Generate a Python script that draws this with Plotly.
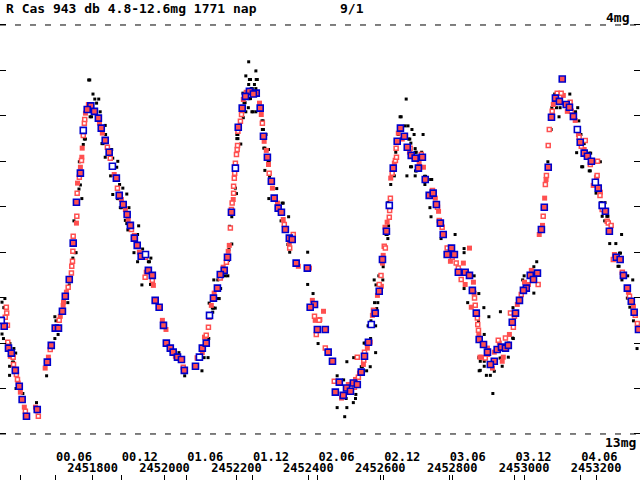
import plotly.graph_objects as go

# visual estimates (black dots)
black_jd = [2451789, 2451792, 2451801, 2451806, 2451817, 2451811, 2451793, 2451797, 2451821, 2451835,
            2451777, 2451780, 2451836, 2451826, 2451829, 2451774, 2451853, 2451856, 2451835, 2451870,
            2451763, 2451867, 2451850, 2451766, 2451875, 2451884, 2451762, 2451856, 2451895, 2451869,
            2451872, 2451770, 2451877, 2451880, 2451901, 2451891, 2451895, 2451898, 2451928, 2451748,
            2451898, 2451925, 2451751, 2451754, 2451745, 2451939, 2451915, 2451962, 2451925, 2451955,
            2451958, 2451937, 2451961, 2451964, 2451735, 2451731, 2451556, 2451548, 2451553, 2451556,
            2451563, 2451695, 2451698, 2451704, 2451695, 2451548, 2451552, 2451567, 2451570, 2451581,
            2451586, 2451577, 2451580, 2451569, 2451582, 2451569, 2451672, 2451587, 2451606, 2451644,
            2451643,
            2452234, 2452254, 2452226, 2452236, 2452239, 2452255, 2452258, 2452234, 2452250, 2452241,
            2452244, 2452254, 2452218, 2452236, 2452239, 2452221, 2452224, 2452264, 2452233, 2452226,
            2452243, 2452246, 2452254, 2452219, 2452271, 2452274, 2452272, 2452275, 2452201, 2452204,
            2452282, 2452201, 2452204, 2452212, 2452276, 2452279, 2452289, 2452288, 2452291, 2452292,
            2452279, 2452197, 2452200, 2452312, 2452290, 2452327, 2452330, 2452345, 2452324, 2452187,
            2452181, 2452343, 2452348, 2452398, 2452187, 2452179, 2452398, 2452413, 2452178, 2452169,
            2452176, 2452137, 2452148, 2452156, 2452149, 2452152, 2452124, 2452133, 2452136, 2452141,
            2452134, 2452123, 2452110, 2452121, 2452104, 2452056, 2452040, 2452427,
            2452672, 2452655, 2452658, 2452669, 2452677, 2452688, 2452650, 2452679, 2452682, 2452694,
            2452719, 2452685, 2452697, 2452643, 2452697, 2452700, 2452715, 2452684, 2452687, 2452698,
            2452701, 2452639, 2452674, 2452697, 2452723, 2452726, 2452740, 2452743, 2452629, 2452724,
            2452621, 2452738, 2452741, 2452623, 2452616, 2452619, 2452808, 2452621, 2452769, 2452833,
            2452833, 2452608, 2452596, 2452607, 2452583, 2452588, 2452861, 2452833, 2452874, 2452593,
            2452584, 2452843, 2452590, 2452574, 2452566, 2452569, 2452587, 2452873, 2452573, 2452555,
            2452558, 2452587, 2452526, 2452507, 2452547, 2452550, 2452572, 2452562, 2452480, 2452498,
            2452532, 2452531, 2452505, 2452525, 2452480, 2452507, 2452501, 2452874, 2452875,
            2453085, 2453127, 2453077, 2453090, 2453100, 2453143, 2453097, 2453149, 2453152, 2453075,
            2453145, 2453158, 2453167, 2453146, 2453182, 2453185, 2453212, 2453066, 2453160, 2453163,
            2453181, 2453184, 2453200, 2453213, 2453216, 2453225, 2453217, 2453230, 2453233, 2453224,
            2453271, 2453238, 2453255, 2453265, 2453268, 2453261, 2453264, 2453288, 2453272, 2453302,
            2453035, 2453027, 2453000, 2452996, 2453027, 2452969, 2452934, 2452888, 2452902, 2452970,
            2452956, 2453294, 2453314, 2453304, 2453287, 2452889, 2452889, 2452878, 2452956, 2452933,
            2452936, 2452939, 2452889, 2452878, 2452917, 2452895, 2452906, 2452913, 2452968]
black_mag = [5.21, 5.21, 5.52, 5.63, 5.63, 5.72, 6.02, 6.02, 5.91, 6.21,
             6.51, 6.51, 6.41, 6.61, 6.61, 6.63, 6.74, 6.93, 6.91, 7.00,
             7.01, 7.13, 7.32, 7.52, 7.51, 7.59, 7.61, 7.73, 7.72, 7.82,
             7.82, 7.82, 8.02, 8.02, 8.02, 8.30, 8.37, 8.37, 8.42, 8.31,
             8.51, 8.61, 9.01, 9.01, 9.13, 8.93, 9.01, 9.13, 9.21, 9.21,
             9.21, 9.72, 9.71, 9.71, 9.72, 10.11, 10.02, 10.10, 10.22, 10.22,
             10.23, 10.42, 10.51, 10.81, 10.90, 10.80, 10.90, 11.01, 11.01, 11.12,
             11.22, 11.42, 11.42, 11.51, 11.51, 11.71, 11.72, 12.00, 12.11, 12.31,
             12.51,
             4.81, 5.01, 5.12, 5.20, 5.20, 5.20, 5.20, 5.31, 5.31, 5.40,
             5.40, 5.40, 5.50, 5.62, 5.62, 5.71, 5.71, 5.71, 5.82, 5.91,
             5.91, 5.91, 5.91, 6.04, 6.11, 6.11, 6.30, 6.30, 6.41, 6.41,
             6.41, 6.50, 6.50, 6.62, 6.71, 6.71, 6.74, 7.02, 7.02, 7.33,
             7.20, 7.59, 7.71, 7.60, 7.82, 7.92, 7.92, 8.22, 8.31, 8.22,
             8.43, 8.83, 9.00, 9.00, 8.82, 8.94, 9.71, 9.91, 9.18, 9.52,
             9.52, 9.61, 9.61, 9.80, 10.02, 10.02, 10.12, 10.23, 10.23, 10.23,
             10.32, 10.90, 11.32, 11.32, 11.61, 11.72, 11.21, 11.01,
             5.63, 6.02, 6.02, 6.22, 6.22, 6.30, 6.41, 6.51, 6.51, 6.41,
             6.41, 6.60, 6.72, 6.80, 6.80, 6.80, 6.80, 7.12, 7.12, 7.21,
             7.21, 7.32, 7.32, 7.32, 7.33, 7.33, 7.40, 7.40, 7.51, 7.51,
             7.91, 8.02, 8.22, 8.42, 8.61, 8.61, 8.61, 8.70, 8.70, 8.92,
             9.01, 9.32, 9.52, 9.61, 9.61, 9.72, 9.52, 9.80, 9.91, 10.11,
             10.11, 10.11, 10.24, 10.51, 10.62, 10.62, 10.62, 10.51, 10.90, 11.00,
             11.00, 11.21, 11.32, 11.41, 11.52, 11.52, 11.52, 11.61, 11.72, 11.81,
             12.13, 12.22, 12.22, 12.31, 12.42, 12.42, 12.62, 11.32, 11.61,
             5.52, 5.52, 5.82, 5.82, 5.82, 5.91, 6.02, 5.82, 6.11, 6.30,
             6.28, 6.41, 6.61, 6.81, 6.82, 6.82, 7.01, 7.01, 7.12, 7.12,
             7.21, 7.21, 7.70, 7.91, 7.91, 7.91, 8.21, 8.21, 8.21, 8.31,
             8.61, 8.81, 8.81, 9.02, 9.02, 9.31, 9.31, 9.52, 9.61, 9.61,
             9.21, 9.32, 9.52, 9.61, 9.90, 10.22, 10.31, 10.22, 10.42, 10.90,
             11.00, 10.21, 11.12, 10.51, 10.01, 10.81, 11.40, 11.40, 11.31, 11.33,
             11.33, 11.51, 11.51, 11.60, 11.62, 11.71, 11.71, 12.11, 10.89]

# filled red squares
red_jd = [2451668, 2451677, 2451710, 2451718, 2451719, 2451727, 2451755, 2451758, 2451766, 2451770,
          2451771, 2451780, 2451788, 2451819, 2451827, 2451860, 2451880, 2451891, 2451899, 2451916,
          2451930, 2451949, 2451969, 2451976, 2451571, 2451593, 2451599, 2451610, 2451641,
          2452105, 2452111, 2452130, 2452138, 2452163, 2452177, 2452180, 2452191, 2452219, 2452227,
          2452264, 2452269, 2452277, 2452283, 2452289, 2452300, 2452314, 2452330, 2452347, 2452372,
          2452403, 2452411, 2452419, 2451994, 2452004, 2452030,
          2452492, 2452511, 2452531, 2452542, 2452553, 2452564, 2452572, 2452578, 2452592, 2452603,
          2452606, 2452608, 2452613, 2452619, 2452629, 2452639, 2452650, 2452661, 2452681, 2452708,
          2452720, 2452753, 2452762, 2452795, 2452831, 2452848, 2452836, 2452859, 2452861, 2452853,
          2452874, 2452442, 2452432,
          2452959, 2452931, 2452898, 2452881, 2452942, 2452939, 2452912, 2452899, 2452877, 2452917,
          2452981, 2453001, 2453012, 2453020, 2453042, 2453051, 2453057, 2453061, 2453081, 2453109,
          2453120, 2453142, 2453151, 2453167, 2453201, 2453192, 2453212, 2453251, 2453290, 2453304]
red_mag = [11.55, 11.31, 10.41, 10.17, 10.10, 9.88, 8.36, 7.48, 7.13, 6.91,
           6.71, 5.94, 5.75, 6.16, 6.38, 7.29, 7.84, 8.06, 8.28, 8.63,
           9.00, 9.44, 9.73, 10.04, 11.29, 11.88, 12.08, 12.41, 12.41,
           11.21, 10.87, 10.17, 9.90, 9.33, 8.98, 8.85, 7.84, 5.64, 5.48,
           5.72, 5.97, 6.56, 6.76, 7.07, 7.59, 7.92, 8.28, 8.80, 9.31,
           9.35, 10.06, 10.50, 10.50, 10.70, 11.29,
           12.21, 11.91, 11.80, 11.66, 11.47, 11.11, 10.98, 10.39, 9.95, 9.75,
           9.24, 9.07, 8.45, 8.34, 7.37, 7.04, 6.38, 6.51, 6.80, 7.04,
           7.13, 7.81, 8.10, 9.20, 9.24, 8.91, 9.71, 9.66, 9.90, 10.21,
           10.83, 10.30, 10.48,
           10.81, 11.00, 11.11, 11.31, 11.31, 11.40, 11.55, 11.25, 11.31, 11.20,
           10.15, 9.66, 9.71, 9.40, 8.61, 8.41, 7.81, 7.40, 5.75, 5.55,
           5.90, 6.10, 6.41, 6.74, 7.35, 7.53, 7.68, 9.05, 9.88, 10.19]

# open red squares
red_open_jd = [2451682, 2451707, 2451732, 2451741, 2451742, 2451744, 2451745, 2451746, 2451756, 2451757,
               2451763, 2451769, 2451774, 2451777, 2451778, 2451841, 2451849, 2451869, 2451908, 2451947,
               2451946, 2451966, 2451560, 2451561, 2451557, 2451563, 2451564, 2451579, 2451580, 2451588,
               2451591, 2451613, 2451649,
               2452091, 2452116, 2452122, 2452124, 2452155, 2452172, 2452183, 2452186, 2452188, 2452192,
               2452192, 2452194, 2452195, 2452197, 2452200, 2452202, 2452203, 2452204, 2452211, 2452214,
               2452272, 2452291, 2452333, 2452358, 2452348, 2452417, 2452430, 2452422, 2452052,
               2452472, 2452528, 2452539, 2452554, 2452556, 2452536, 2452581, 2452597, 2452602, 2452611,
               2452614, 2452625, 2452626, 2452628, 2452633, 2452642, 2452645, 2452644, 2452683, 2452714,
               2452745, 2452759, 2452764, 2452772, 2452786, 2452800, 2452811, 2452817, 2452825, 2452862,
               2452864, 2452870, 2452871, 2452873, 2452447,
               2452970, 2452928, 2452948, 2452892, 2452962, 2452973, 2452992, 2453039, 2453053, 2453059,
               2453062, 2453067, 2453070, 2453078, 2453092, 2453103, 2453128, 2453131, 2453153, 2453170,
               2453159, 2453184, 2453204, 2453203, 2453211, 2453217, 2453231, 2453234, 2453242, 2453248,
               2453273, 2453293, 2453309, 2453315]
red_open_mag = [11.14, 10.50, 9.77, 9.46, 9.31, 9.20, 8.98, 8.65, 8.21, 7.70,
                7.35, 6.98, 6.43, 6.16, 6.08, 6.69, 6.93, 7.59, 8.50, 9.11,
                9.55, 9.62, 10.21, 10.34, 10.43, 10.61, 10.98, 11.31, 11.47, 11.69,
                11.80, 12.50, 12.61,
                11.33, 10.83, 10.65, 10.43, 9.57, 9.22, 8.47, 8.06, 7.92, 7.70,
                7.55, 7.37, 7.26, 7.04, 6.85, 6.74, 6.65, 6.34, 6.12, 5.97,
                6.16, 7.26, 8.39, 8.61, 8.91, 10.41, 10.50, 10.81, 11.53,
                11.84, 11.97, 11.75, 11.38, 11.20, 11.31, 10.28, 9.71, 9.51, 8.87,
                8.91, 8.23, 8.08, 7.81, 7.26, 6.98, 6.91, 6.71, 6.71, 6.85,
                7.64, 8.01, 8.30, 8.45, 8.91, 9.11, 9.24, 9.35, 9.60, 10.01,
                10.17, 10.45, 10.59, 10.72, 11.11,
                10.65, 10.94, 10.89, 11.33, 10.34, 10.41, 9.93, 9.71, 8.21, 7.51,
                7.31, 6.65, 6.30, 5.90, 5.50, 5.50, 5.70, 5.90, 6.47, 6.54,
                6.67, 7.07, 7.00, 7.31, 7.75, 8.06, 8.32, 8.36, 8.41, 9.16,
                9.44, 9.97, 10.39, 10.57]

# blue-edged squares
blue_jd = [2451795, 2451785, 2451805, 2451816, 2451824, 2451835, 2451846, 2451766, 2451866, 2451874,
           2451755, 2451885, 2451896, 2451905, 2451916, 2451746, 2451924, 2451935, 2451955, 2451966,
           2451735, 2451724, 2451974, 2451985, 2451716, 2451696, 2451705, 2451685, 2451674, 2451554,
           2451566, 2451574, 2451585, 2451596, 2451604, 2451616, 2451646,
           2452236, 2452255, 2452247, 2452225, 2452216, 2452266, 2452205, 2452275, 2452286, 2452297,
           2452305, 2452316, 2452325, 2452186, 2452336, 2452347, 2452355, 2452175, 2452166, 2452155,
           2452366, 2452397, 2452147, 2452136, 2452417, 2452405, 2452425, 2451997, 2452005, 2452016,
           2452024, 2452036, 2452047, 2452055, 2452086, 2452105, 2452116,
           2452656, 2452667, 2452647, 2452675, 2452686, 2452697, 2452717, 2452636, 2452706, 2452725,
           2452736, 2452747, 2452756, 2452767, 2452617, 2452775, 2452798, 2452786, 2452806, 2452606,
           2452817, 2452836, 2452848, 2452856, 2452597, 2452586, 2452867, 2452447, 2452875, 2452567,
           2452455, 2452556, 2452467, 2452547, 2452486, 2452506, 2452525, 2452536, 2452517, 2452475,
           2452497,
           2453106, 2453087, 2453098, 2453117, 2453126, 2453076, 2453137, 2453156, 2453167, 2453176,
           2453187, 2453067, 2453206, 2453226, 2453056, 2453048, 2453237, 2453256, 2453267, 2453276,
           2453037, 2453017, 2453026, 2453006, 2452998, 2453287, 2452987, 2453298, 2452976, 2453306,
           2452967, 2453318, 2452887, 2452898, 2452925, 2452937, 2452948, 2452956, 2452917, 2452906]
blue_mag = [5.78, 5.86, 5.90, 6.05, 6.27, 6.54, 6.80, 7.26, 7.37, 7.75,
            7.90, 7.95, 8.17, 8.41, 8.69, 8.80, 8.85, 9.09, 9.40, 9.51,
            9.60, 9.97, 10.06, 10.21, 10.30, 10.67, 10.67, 11.05, 11.42, 10.63,
            11.11, 11.22, 11.60, 11.95, 12.24, 12.61, 12.46,
            5.46, 5.50, 5.52, 5.57, 5.83, 5.83, 6.25, 6.45, 6.91, 7.44,
            7.81, 8.03, 8.12, 8.12, 8.50, 8.69, 8.72, 9.11, 9.40, 9.49,
            9.24, 9.35, 9.79, 10.01, 10.15, 10.21, 10.70, 10.61, 11.00, 11.11,
            11.20, 11.31, 11.36, 11.60, 11.51, 11.11, 11.00,
            6.27, 6.45, 6.56, 6.69, 6.87, 6.93, 6.91, 7.15, 7.15, 7.40,
            7.75, 7.70, 7.95, 8.36, 8.54, 8.61, 8.91, 9.05, 9.05, 9.16,
            9.44, 9.44, 9.51, 9.84, 9.86, 10.34, 10.34, 10.70, 10.92, 10.98,
            11.20, 11.29, 11.40, 11.64, 11.86, 11.99, 11.88, 11.91, 12.06, 12.08,
            12.15,
            5.19, 5.61, 5.68, 5.75, 5.81, 6.03, 6.01, 6.58, 6.82, 6.89,
            7.00, 7.13, 7.59, 8.10, 8.01, 8.50, 8.54, 9.11, 9.16, 9.51,
            9.46, 9.51, 9.60, 9.79, 9.84, 9.79, 10.06, 10.08, 10.34, 10.32,
            10.54, 10.70, 11.03, 11.20, 11.14, 11.09, 11.11, 11.05, 11.40, 11.47]

# blue-edged squares with white centre
blue_open_jd = [2451774, 2451855, 2451947, 2451546, 2452197, 2452125, 2452097, 2452625, 2452575,
                2453148, 2453198, 2453217]
blue_open_mag = [6.32, 7.11, 9.05, 10.50, 7.15, 10.39, 11.31, 7.97, 10.59, 6.30, 7.46, 7.97]

jd_ticks = [2451600, 2451800, 2452000, 2452200, 2452400, 2452600, 2452800, 2453000, 2453200]
jd_labels = ['', '2451800', '2452000', '2452200', '2452400', '2452600', '2452800', '2453000', '2453200']
month_ticks = [2451696.5, 2451879.5, 2452061.5, 2452244.5, 2452426.5, 2452609.5, 2452791.5,
               2452974.5, 2453157.5]
month_labels = ['00.06', '00.12', '01.06', '01.12', '02.06', '02.12', '03.06', '03.12', '04.06']
mag_ticks = [4, 5, 6, 7, 8, 9, 10, 11, 12, 13]

RED = '#ff5050'
BLUE = '#0000cc'
FONT = dict(family='DejaVu Sans Mono', size=13, color='black', weight='bold')
TICKFONT = dict(family='DejaVu Sans Mono', size=12, color='black', weight='bold')

fig = go.Figure()
fig.add_trace(go.Scatter(x=black_jd, y=black_mag, mode='markers',
                         marker=dict(symbol='square', size=3, color='black', line=dict(width=0))))
fig.add_trace(go.Scatter(x=red_jd, y=red_mag, mode='markers',
                         marker=dict(symbol='square', size=5, color=RED, line=dict(width=0))))
fig.add_trace(go.Scatter(x=red_open_jd, y=red_open_mag, mode='markers',
                         marker=dict(symbol='square', size=4, color='white', line=dict(color=RED, width=1.5))))
fig.add_trace(go.Scatter(x=blue_jd, y=blue_mag, mode='markers',
                         marker=dict(symbol='square', size=6, color=RED, line=dict(color=BLUE, width=1.6))))
fig.add_trace(go.Scatter(x=blue_open_jd, y=blue_open_mag, mode='markers',
                         marker=dict(symbol='square', size=6, color='white', line=dict(color=BLUE, width=1.6))))
# carrier for the month axis
fig.add_trace(go.Scatter(x=month_ticks, y=[None] * len(month_ticks), xaxis='x2', mode='markers',
                         hoverinfo='skip'))

x_range = [2451542.4, 2453322.2]
fig.update_layout(
    width=640, height=480,
    margin=dict(l=0, r=0, t=0, b=0, autoexpand=False),
    plot_bgcolor='white', paper_bgcolor='white',
    showlegend=False,
    xaxis=dict(range=x_range, tickvals=jd_ticks, ticktext=jd_labels, automargin=False,
               ticks='inside', ticklen=5, tickcolor='black', tickwidth=1,
               ticklabelposition='inside', ticklabelstandoff=0, tickfont=TICKFONT,
               showline=True, linecolor='black', linewidth=1, mirror=True,
               showgrid=False, zeroline=False),
    xaxis2=dict(range=x_range, overlaying='x', anchor='y', side='bottom', automargin=False,
                tickvals=month_ticks, ticktext=month_labels,
                ticks='inside', ticklen=5, tickcolor='black', tickwidth=1,
                ticklabelposition='inside right', ticklabelstandoff=11, tickfont=TICKFONT,
                showline=False, showgrid=False, zeroline=False),
    yaxis=dict(range=[14.013, 3.450], tickvals=mag_ticks, showticklabels=False, automargin=False,
               ticks='inside', ticklen=6, tickcolor='black', tickwidth=1,
               showline=True, linecolor='black', linewidth=1, mirror='ticks',
               showgrid=False, zeroline=False),
)

for m in [4, 13]:
    fig.add_shape(type='line', xref='paper', yref='y', x0=0, x1=1, y0=m, y1=m,
                  line=dict(color='black', width=1, dash='6px,9px'))

labels = [('R Cas 943 db 4.8-12.6mg 1771 nap', 4, 8.5),
          ('9/1', 338, 8.5),
          ('4mg', 604, 18),
          ('13mg', 603, 442)]
for txt, px, py in labels:
    fig.add_annotation(text=txt, xref='paper', yref='paper', x=px / 640, y=1 - py / 480,
                       xanchor='left', yanchor='middle', showarrow=False, font=FONT)

# the page body has a default 8px margin; drop it so the chart sits at the window corner
fig.write_html('out.html', config={'displayModeBar': False},
               post_script="document.body.style.margin='0';")
